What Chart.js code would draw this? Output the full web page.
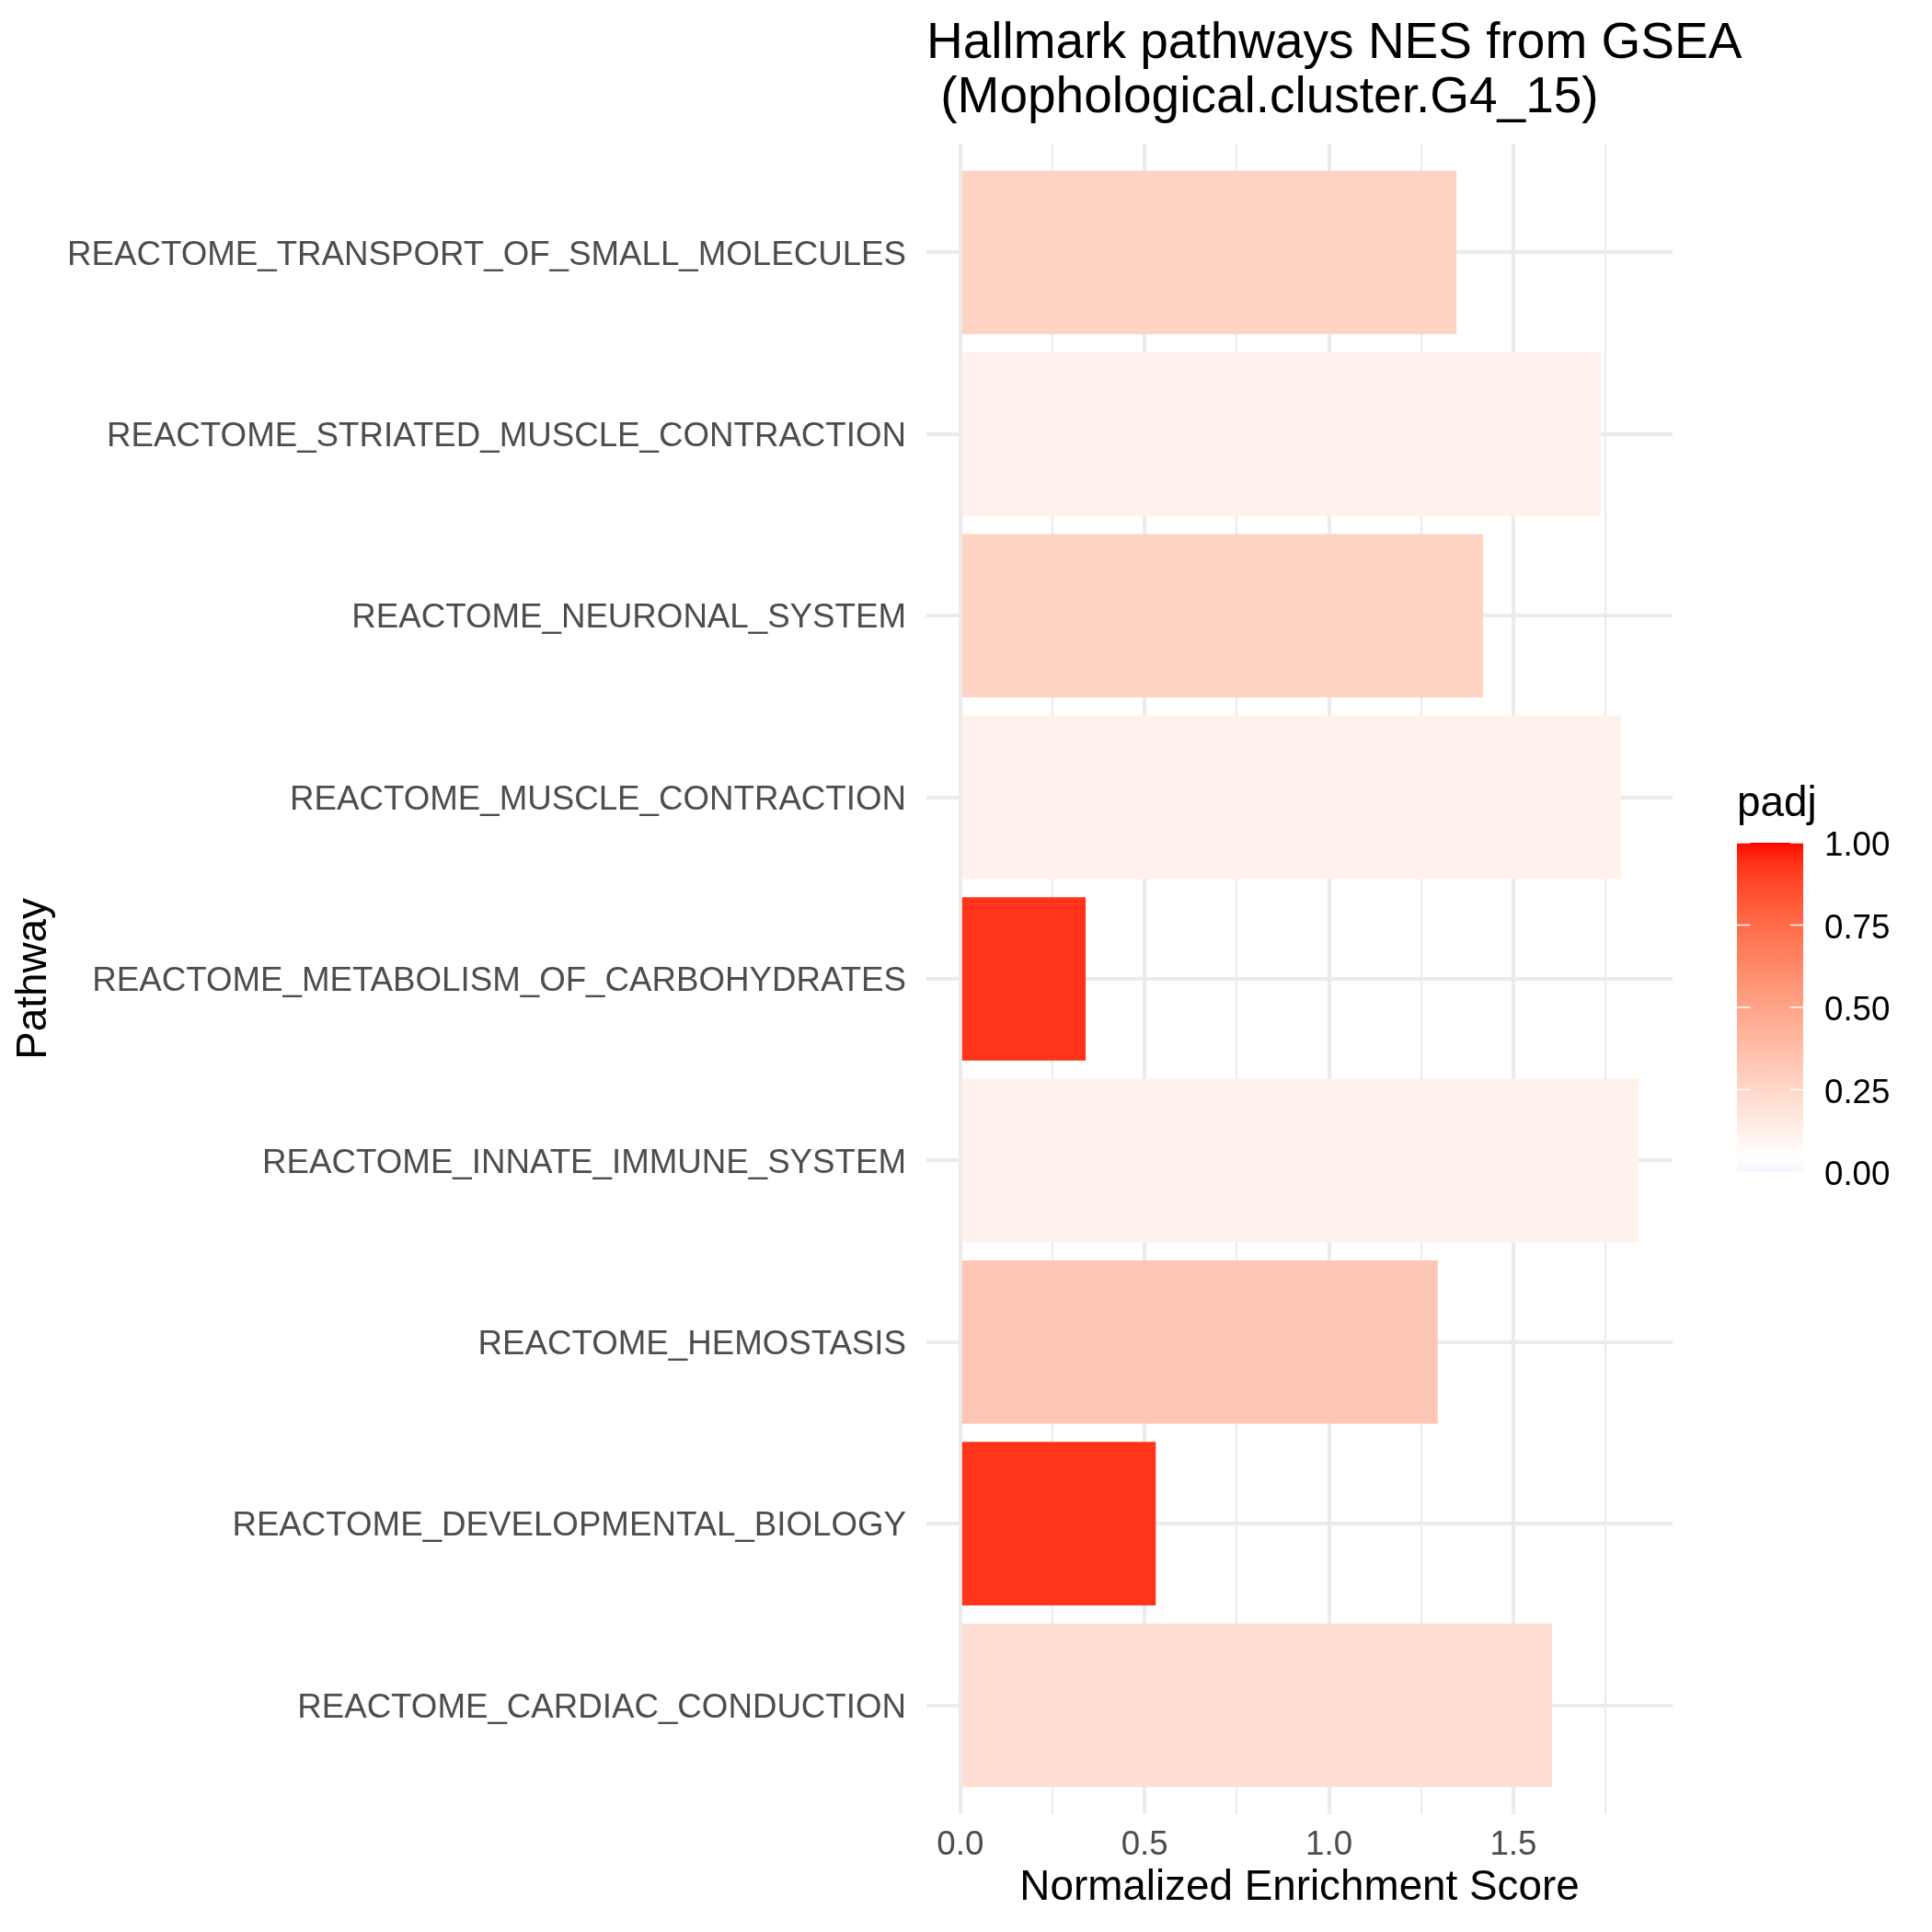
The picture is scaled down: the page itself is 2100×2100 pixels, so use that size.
<!DOCTYPE html>
<html>
<head>
<meta charset="utf-8">
<script src="https://cdn.jsdelivr.net/npm/chart.js@4.4.1/dist/chart.umd.min.js"></script>
<style>html,body{margin:0;padding:0;background:#ffffff;}</style>
</head>
<body>
<canvas id="c" width="2100" height="2100"></canvas>
<script>
// ---- data (bottom to top, alphabetical as ggplot orders) ----
const pathways = [
  "REACTOME_CARDIAC_CONDUCTION",
  "REACTOME_DEVELOPMENTAL_BIOLOGY",
  "REACTOME_HEMOSTASIS",
  "REACTOME_INNATE_IMMUNE_SYSTEM",
  "REACTOME_METABOLISM_OF_CARBOHYDRATES",
  "REACTOME_MUSCLE_CONTRACTION",
  "REACTOME_NEURONAL_SYSTEM",
  "REACTOME_STRIATED_MUSCLE_CONTRACTION",
  "REACTOME_TRANSPORT_OF_SMALL_MOLECULES"
];
const nes  = [1.605, 0.530, 1.295, 1.840, 0.340, 1.792, 1.418, 1.738, 1.346];
const padj = [0.21, 0.93, 0.33, 0.115, 0.93, 0.115, 0.27, 0.115, 0.27];

const xMajorValues = [0, 0.5, 1.0, 1.5];
const xMajorLabels = ["0.0", "0.5", "1.0", "1.5"];
const xMinorValues = [0.25, 0.75, 1.25, 1.75];
const legendValues = [0, 0.25, 0.5, 0.75, 1.0];
const legendLabels = ["0.00", "0.25", "0.50", "0.75", "1.00"];
const padjLimits = [0, 1];
const padjMidpoint = 0.05;

const titleLines = ["Hallmark pathways NES from GSEA", " (Mophological.cluster.G4_15)"];
const xTitle = "Normalized Enrichment Score";
const yTitle = "Pathway";
const legendTitle = "padj";

// ---- colour scale: ggplot scale_fill_gradient2(low="blue", mid="white", high="red") in Lab ----
const Xn = 0.95047, Yn = 1.0, Zn = 1.08883;
function toLin(c){ c/=255; return c<=0.04045 ? c/12.92 : Math.pow((c+0.055)/1.055, 2.4); }
function toSrgb(c){ c=Math.min(1,Math.max(0,c)); return c<=0.0031308 ? 12.92*c : 1.055*Math.pow(c,1/2.4)-0.055; }
function fLab(t){ return t>0.008856 ? Math.cbrt(t) : (7.787*t + 16/116); }
function fInv(t){ return t>0.206893 ? t*t*t : (t-16/116)/7.787; }
function rgb2lab(rgb){
  const r=toLin(rgb[0]), g=toLin(rgb[1]), b=toLin(rgb[2]);
  const X=(0.4124*r+0.3576*g+0.1805*b)/Xn, Y=(0.2126*r+0.7152*g+0.0722*b)/Yn, Z=(0.0193*r+0.1192*g+0.9505*b)/Zn;
  const fx=fLab(X), fy=fLab(Y), fz=fLab(Z);
  return [116*fy-16, 500*(fx-fy), 200*(fy-fz)];
}
function lab2rgb(lab){
  const fy=(lab[0]+16)/116, fx=fy+lab[1]/500, fz=fy-lab[2]/200;
  const X=Xn*fInv(fx), Y=Yn*fInv(fy), Z=Zn*fInv(fz);
  const r= 3.2406*X-1.5372*Y-0.4986*Z, g=-0.9689*X+1.8758*Y+0.0415*Z, b=0.0557*X-0.2040*Y+1.0570*Z;
  return [toSrgb(r),toSrgb(g),toSrgb(b)].map(v=>Math.round(v*255));
}
const LAB_LOW = rgb2lab([0,0,255]), LAB_MID = rgb2lab([255,255,255]), LAB_HIGH = rgb2lab([255,0,0]);
function mixLab(a,b,t){ return [a[0]+(b[0]-a[0])*t, a[1]+(b[1]-a[1])*t, a[2]+(b[2]-a[2])*t]; }
function fillFor(p){
  const span = Math.max(padjLimits[1]-padjMidpoint, padjMidpoint-padjLimits[0]);
  const r = (p-padjMidpoint)/span/2 + 0.5;
  const lab = r>=0.5 ? mixLab(LAB_MID, LAB_HIGH, (r-0.5)*2) : mixLab(LAB_MID, LAB_LOW, (0.5-r)*2);
  const c = lab2rgb(lab);
  return `rgb(${c[0]},${c[1]},${c[2]})`;
}

const FONT = "'Liberation Sans', Arial, Helvetica, sans-serif";

const overlay = {
  id: 'overlay',
  afterDraw(chart){
    const ctx = chart.ctx, area = chart.chartArea;
    ctx.save();
    // title
    ctx.fillStyle = '#000000';
    ctx.font = `55px ${FONT}`;
    ctx.textAlign = 'left';
    ctx.textBaseline = 'alphabetic';
    ctx.fillText(titleLines[0], area.left, 63);
    ctx.fillText(titleLines[1], area.left, 122);
    // legend
    const bx = 1888, bw = 72, bTop = 916, bBot = 1274;
    ctx.font = `45.8px ${FONT}`;
    ctx.fillText(legendTitle, 1888, 887);
    const grad = ctx.createLinearGradient(0, bBot, 0, bTop);
    for (let i=0;i<=100;i++){ const v = padjLimits[0] + (padjLimits[1]-padjLimits[0])*i/100; grad.addColorStop(i/100, fillFor(v)); }
    ctx.fillStyle = grad;
    ctx.fillRect(bx, bTop, bw, bBot-bTop);
    ctx.strokeStyle = '#ffffff';
    ctx.lineWidth = 1.5;
    ctx.font = `36.7px ${FONT}`;
    ctx.fillStyle = '#000000';
    ctx.textBaseline = 'middle';
    legendValues.forEach((v,i)=>{
      const y = bBot - (v-padjLimits[0])/(padjLimits[1]-padjLimits[0])*(bBot-bTop);
      ctx.beginPath();
      ctx.moveTo(bx, y); ctx.lineTo(bx+14.4, y);
      ctx.moveTo(bx+bw-14.4, y); ctx.lineTo(bx+bw, y);
      ctx.stroke();
      ctx.fillText(legendLabels[i], 1983, y + 4);
    });
    ctx.restore();
  }
};

new Chart(document.getElementById('c'), {
  type: 'bar',
  data: {
    datasets: [{
      data: pathways.map((p,i)=>({x: nes[i], y: i+1})),
      backgroundColor: padj.map(fillFor),
      borderWidth: 0,
      barPercentage: 0.9,
      categoryPercentage: 1.0
    }]
  },
  options: {
    indexAxis: 'y',
    responsive: false,
    animation: false,
    devicePixelRatio: 1,
    layout: { padding: { top: 156, right: 282, bottom: 0, left: 0 } },
    plugins: { legend: { display: false }, tooltip: { enabled: false }, title: { display: false } },
    scales: {
      x: {
        type: 'linear', position: 'bottom', min: -0.092, max: 1.932, offset: false,
        afterFit: s => { s.height = 128; },
        afterBuildTicks: s => { s.ticks = xMajorValues.concat(xMinorValues).sort((a,b)=>a-b).map(v=>({value:v})); },
        border: { display: false },
        grid: {
          color: '#EBEBEB', drawTicks: false, offset: false,
          lineWidth: c => (c.tick && xMinorValues.includes(c.tick.value)) ? 2 : 4
        },
        ticks: {
          autoSkip: false, maxRotation: 0, padding: 12, color: '#4D4D4D',
          font: { family: FONT, size: 36.7 },
          callback: v => { const i = xMajorValues.indexOf(v); return i >= 0 ? xMajorLabels[i] : ''; }
        },
        title: { display: true, text: xTitle, color: '#000000', font: { family: FONT, size: 45.8 }, padding: { top: 0, bottom: 20 } }
      },
      y: {
        type: 'linear', position: 'left', min: 0.4, max: 9.6, offset: false,
        afterFit: s => { s.width = 1007; },
        afterBuildTicks: s => { s.ticks = pathways.map((p,i)=>({value: i+1})); },
        border: { display: false },
        grid: { color: '#EBEBEB', lineWidth: 4, drawTicks: false, offset: false },
        ticks: {
          autoSkip: false, padding: 22, color: '#4D4D4D', labelOffset: 3,
          font: { family: FONT, size: 36.7 },
          callback: v => pathways[Math.round(v)-1]
        },
        title: { display: true, text: yTitle, color: '#000000', font: { family: FONT, size: 45.8 }, padding: { top: 10, bottom: 0 } }
      }
    }
  },
  plugins: [overlay]
});
</script>
</body>
</html>
